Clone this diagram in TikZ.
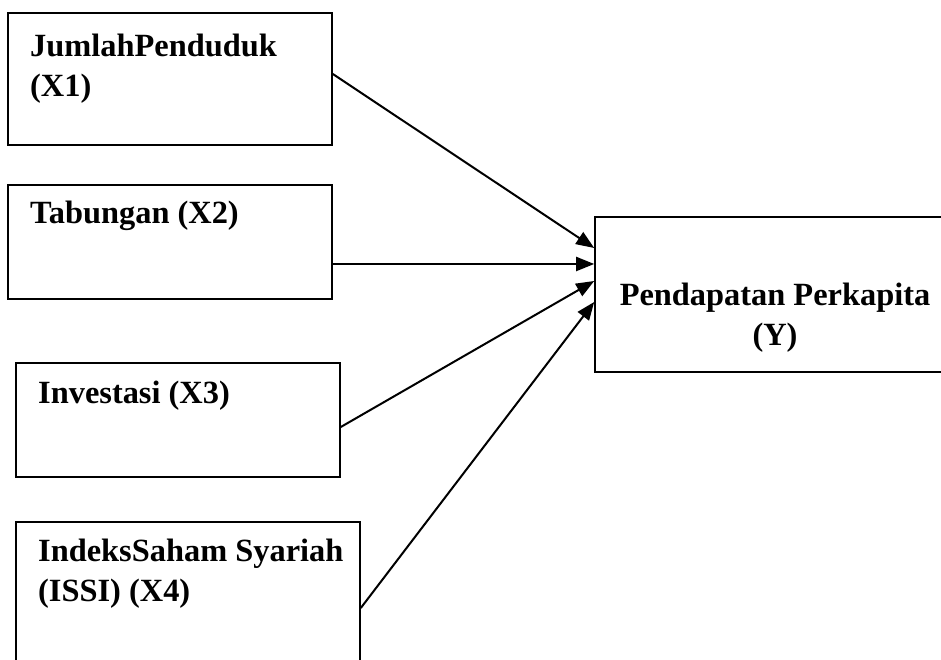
\documentclass[tikz,border=0pt]{standalone}
\usepackage{fontspec}
\setmainfont{Liberation Serif}
\usetikzlibrary{arrows.meta}

\tikzset{
	varbox/.style={draw, line width=1.6pt, inner sep=0pt},
	vartext/.style={font=\bfseries\fontsize{32.4}{40}\selectfont, inner sep=0pt, align=left},
	pathline/.style={line width=2pt, -{Triangle[length=18pt,width=14pt]}}
}

\begin{document}
\begin{tikzpicture}[x=1pt,y=1pt]

		\useasboundingbox (0,0) rectangle (941,660);
		\clip (0,0) rectangle (941,660);

		% variable boxes
		\node[varbox, minimum width=324pt, minimum height=132pt] (x1) at (170,581) {};
		\node[varbox, minimum width=324pt, minimum height=114pt] (x2) at (170,418) {};
		\node[varbox, minimum width=324pt, minimum height=114pt] (x3) at (178,240) {};
		\node[varbox, minimum width=344pt, minimum height=158pt] (x4) at (188,59) {};
		\node[varbox, minimum width=355pt, minimum height=155pt] (y) at (772.5,365.5) {};

		% labels (base = last line)
		\node[vartext, anchor=base west] (t1) at (30,563) {JumlahPenduduk\\(X1)};
		\node[vartext, anchor=base west] (t2) at (30,436) {Tabungan (X2)};
		\node[vartext, anchor=base west] (t3) at (38,256) {Investasi (X3)};
		\node[vartext, anchor=base west] (t4) at (38,58) {IndeksSaham Syariah\\(ISSI) (X4)};
		\node[vartext, align=center, anchor=base] (ty) at (775,314) {Pendapatan Perkapita\\(Y)};

		% arrows into Y
		\draw[pathline] ([yshift=5pt]x1.east) -- ([yshift=46.5pt]y.west);
		\draw[pathline] ([yshift=-22pt]x2.east) -- ([yshift=30.5pt]y.west);
		\draw[pathline] ([yshift=-7pt]x3.east) -- ([yshift=13.5pt]y.west);
		\draw[pathline] ([yshift=-7pt]x4.east) -- ([yshift=-7.5pt]y.west);

\end{tikzpicture}
\end{document}
